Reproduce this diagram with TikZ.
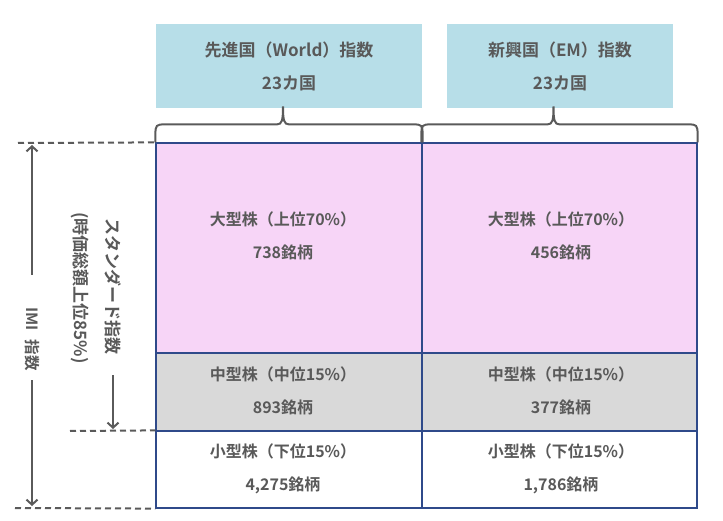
\documentclass[tikz,border=0pt]{standalone}
\usepackage{fontspec}
\setmainfont{Noto Sans CJK JP}[BoldFont={Noto Sans CJK JP Bold}]
\usetikzlibrary{arrows.meta}
\definecolor{txtgray}{HTML}{595959}
\definecolor{linegray}{HTML}{5A5A5A}
\definecolor{bluebox}{HTML}{B7DEE8}
\definecolor{pinkcell}{HTML}{F7D5F7}
\definecolor{graycell}{HTML}{D9D9D9}
\definecolor{navy}{HTML}{2F4A8A}
\tikzset{
  txt/.style={align=center,text=txtgray,font=\bfseries\fontsize{16}{33}\selectfont},
  head/.style={txt,fill=bluebox,minimum height=84pt,inner sep=0pt,
    font=\bfseries\fontsize{17}{33}\selectfont},
  cell/.style={draw=navy,line width=1.2pt,minimum width=266pt,inner sep=0pt},
  dline/.style={draw=linegray,line width=2pt,dash pattern=on 6pt off 4pt},
  arr/.style={draw=linegray,line width=2pt,-{Straight Barb[length=5pt,width=11pt]}},
  brc/.style={draw=linegray,line width=2pt},
  vtxt/.style={txt,rotate=-90,font=\bfseries\fontsize{17}{18}\selectfont},
}
\begin{document}
\begin{tikzpicture}[x=1pt,y=-1pt]
\useasboundingbox (0,0) rectangle (723,521);
% index headers
\node[head,minimum width=266pt] (W) at (289,66) {先進国（World）指数\\23カ国};
\node[head,minimum width=226pt] (E) at (560,66) {新興国（EM）指数\\23カ国};
% cells, developed
\node[cell,fill=pinkcell,minimum height=210pt] (WL) at (289,248) {};
\node[cell,fill=graycell,minimum height=78pt] (WM) at (289,392) {};
\node[cell,fill=white,minimum height=77pt] (WS) at (289,469.5) {};
% cells, emerging
\node[cell,fill=pinkcell,minimum height=210pt,minimum width=275pt] (EL) at (559.5,248) {};
\node[cell,fill=graycell,minimum height=78pt,minimum width=275pt] (EM) at (559.5,392) {};
\node[cell,fill=white,minimum height=77pt,minimum width=275pt] (ES) at (559.5,469.5) {};
% cell texts
\node[txt] (WLt) at (283,236) {大型株（上位70\%）\\738銘柄};
\node[txt] (WMt) at (283,391) {中型株（中位15\%）\\893銘柄};
\node[txt] (WSt) at (283,469) {小型株（下位15\%）\\4,275銘柄};
\node[txt] (ELt) at (561,236) {大型株（上位70\%）\\456銘柄};
\node[txt] (EMt) at (561,391) {中型株（中位15\%）\\377銘柄};
\node[txt] (ESt) at (561,469) {小型株（下位15\%）\\1,786銘柄};
% braces
\draw[brc] (WL.north west) -- ([yshift=8pt]WL.north west)
  .. controls ([yshift=17pt]WL.north west) and ([xshift=1pt,yshift=18pt]WL.north west)
  .. ([xshift=9pt,yshift=18pt]WL.north west)
  -- ([xshift=-12pt,yshift=18pt]WL.north)
  .. controls ([xshift=-7pt,yshift=18pt]WL.north) and ([xshift=-6pt,yshift=22pt]WL.north)
  .. ([xshift=-6pt,yshift=36pt]WL.north)
  .. controls ([xshift=-6pt,yshift=22pt]WL.north) and ([xshift=-5pt,yshift=18pt]WL.north)
  .. ([xshift=0pt,yshift=18pt]WL.north)
  -- ([xshift=-9pt,yshift=18pt]WL.north east)
  .. controls ([xshift=-1pt,yshift=18pt]WL.north east) and ([yshift=17pt]WL.north east)
  .. ([yshift=8pt]WL.north east) -- (WL.north east);
\draw[brc] (EL.north west) -- ([yshift=8pt]EL.north west)
  .. controls ([yshift=17pt]EL.north west) and ([xshift=1pt,yshift=18pt]EL.north west)
  .. ([xshift=9pt,yshift=18pt]EL.north west)
  -- ([xshift=-12pt,yshift=18pt]EL.north)
  .. controls ([xshift=-7pt,yshift=18pt]EL.north) and ([xshift=-6pt,yshift=22pt]EL.north)
  .. ([xshift=-6pt,yshift=36pt]EL.north)
  .. controls ([xshift=-6pt,yshift=22pt]EL.north) and ([xshift=-5pt,yshift=18pt]EL.north)
  .. ([xshift=0pt,yshift=18pt]EL.north)
  -- ([xshift=-9pt,yshift=18pt]EL.north east)
  .. controls ([xshift=-1pt,yshift=18pt]EL.north east) and ([yshift=17pt]EL.north east)
  .. ([yshift=8pt]EL.north east) -- (EL.north east);
% dashed guides
\coordinate (top) at (18,143);
\coordinate (mid) at (70,431);
\coordinate (bot) at (15,508);
\draw[dline] (top) -- (WL.north west);
\draw[dline] (mid) -- (WS.north west);
\draw[dline] (bot) -- (WS.south west);
% side labels
\node[vtxt,font=\bfseries\fontsize{15.5}{16}\selectfont] (IMI) at (32,339) {IMI\hspace{0.6em}指数};
\node[vtxt] (STD) at (113,287) {スタンダード指数};
\node[vtxt] (CAP) at (80,288) {(時価総額上位85\%)};
\coordinate (imiup) at (32,275);
\coordinate (imidn) at (32,380);
\coordinate (imitop) at (32,145);
\coordinate (imibot) at (32,506);
\coordinate (stdfrom) at (113,375);
\coordinate (stdto) at (113,429);
\draw[arr] (imiup) -- (imitop);
\draw[arr] (imidn) -- (imibot);
\draw[arr] (stdfrom) -- (stdto);
\end{tikzpicture}
\end{document}
